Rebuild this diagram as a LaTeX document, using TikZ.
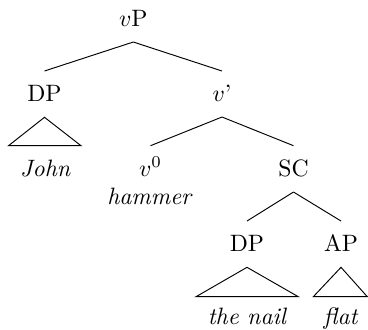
\documentclass[tikz,border=0pt]{standalone}
\usetikzlibrary{calc}
\begin{document}
\begin{tikzpicture}[x=0.422pt,y=-0.422pt,
  lbl/.style={anchor=base,inner sep=0pt,outer sep=0pt},
  branch/.style={line width=0.4pt,line join=miter}]
\useasboundingbox (0,0) rectangle (368,329);
% labels, placed on their baselines
\node[lbl] (vP)   at (133.3,26.7) {$v$P};
\node[lbl] (DPa)  at (44.5,101.7) {DP};
\node[lbl] (vbar) at (222,101.7)  {$v$'};
\node[lbl] (John) at (45.5,176)   {\textit{John}};
\node[lbl] (vzero) at (150.5,176) {$v^0$};
\node[lbl] (hammer) at (150,204)  {\textit{hammer}};
\node[lbl] (SC)   at (293.5,176)  {SC};
\node[lbl] (DPb)  at (247,251.7)  {DP};
\node[lbl] (AP)   at (341,251.7)  {AP};
\node[lbl] (nail) at (247.5,324)  {\textit{the nail}};
\node[lbl] (flat) at (341,324)    {\textit{flat}};
% branches
\draw[branch] ($(vP.base)+(0,15.3)$) -- ($(DPa.base)+(0,-30.7)$);
\draw[branch] ($(vP.base)+(0,15.3)$) -- ($(vbar.base)+(0,-30.7)$);
\draw[branch] ($(vbar.base)+(0,15.3)$) -- ($(vzero.base)+(0,-30.3)$);
\draw[branch] ($(vbar.base)+(0,15.3)$) -- ($(SC.base)+(0,-30.3)$);
\draw[branch] ($(SC.base)+(0,16)$) -- ($(DPb.base)+(0,-30.7)$);
\draw[branch] ($(SC.base)+(0,16)$) -- ($(AP.base)+(0,-30.7)$);
% triangles over unanalysed phrases
\draw[branch] ($(DPa.base)+(0,15.6)$) -- ($(John.base)+(-37,-30.3)$)
  -- ($(John.base)+(35.5,-30.3)$) -- cycle;
\draw[branch] ($(DPb.base)+(0,15.6)$) -- ($(nail.base)+(-51.5,-27.3)$)
  -- ($(nail.base)+(50.8,-27.3)$) -- cycle;
\draw[branch] ($(AP.base)+(0,15.6)$) -- ($(flat.base)+(-27.7,-27.3)$)
  -- ($(flat.base)+(26.3,-27.3)$) -- cycle;
\end{tikzpicture}
\end{document}
